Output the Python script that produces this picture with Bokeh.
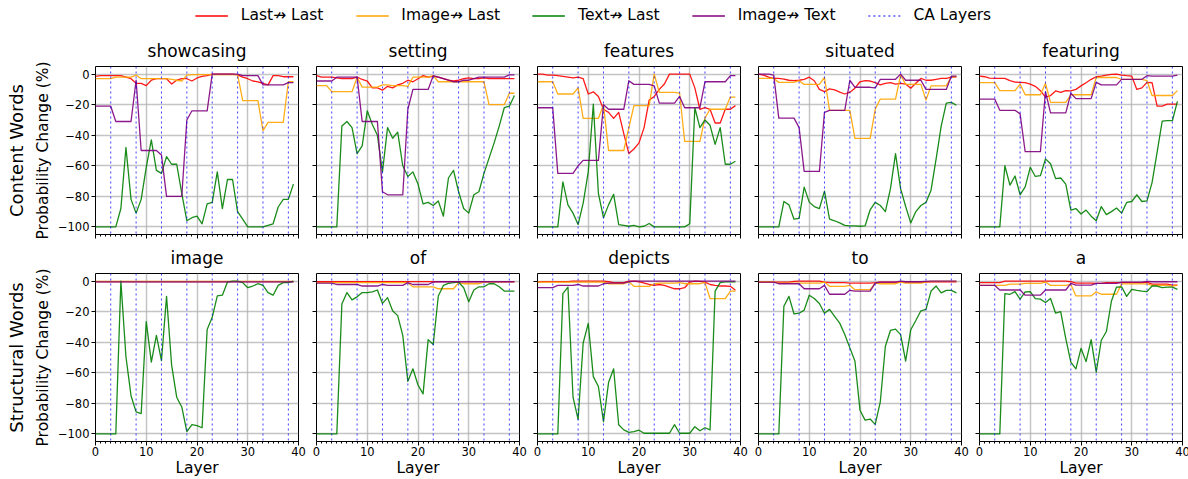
from bokeh.plotting import figure
from bokeh.models import Range1d, FixedTicker, Span, Legend, LegendItem, Title, CustomLabelingPolicy
from bokeh.layouts import column, row
from bokeh.embed import file_html
from bokeh.resources import INLINE

layers = list(range(40))
ca_layers = [3, 8, 13, 18, 23, 28, 33, 38]
x_ticks = [0, 10, 20, 30, 40]
x_minor_ticks = list(range(0, 41))
y_ticks = [-100, -80, -60, -40, -20, 0]
y_tick_labels = ["\u2212100", "\u221280", "\u221260", "\u221240", "\u221220", "0"]
series_names = ["Last\u219b Last", "Image\u219b Last", "Text\u219b Last", "Image\u219b Text"]
series_colors = ["red", "orange", "green", "purple"]
content_words = ["showcasing", "setting", "features", "situated", "featuring"]
structural_words = ["image", "of", "depicts", "to", "a"]
row_labels = ["Content Words", "Structural Words"]

# ---------------- Content words ----------------
showcasing_last = [-1.5, -1, -1, -1, -1, -1, -2, -3, -6, -6, -7.5, -4, -3, -3, -3, -6.5, -4, -3, -3, -4.5,
                   -2.5, -1.5, -1, 0, 0, 0, 0, 0, -0.5, -2, -3, -4.5, -5, -6, -7, -1, -1, -1.7, -1.7, -1.7]
showcasing_image = [-3, -3, -3, -3, -2, -2, -2, -2, -0.6, -3, -3, -3, -3, -3, -3, -3.5, -4, -4.5, -0.6, -0.3,
                    -0.3, -0.3, -0.3, -0.3, -0.3, -0.3, -0.3, -0.3, -0.3, -17.4, -17.4, -17.4, -17.4, -37, -31.6, -31.6, -31.6, -31.6, -5, -5]
showcasing_text = [-100, -100, -100, -100, -100, -88, -48, -82, -91, -82, -61, -43, -63, -65, -54, -59, -59, -78, -96, -94,
                   -93, -98, -85, -84, -64, -88, -69, -69, -90, -95, -100, -100, -100, -100, -99, -98, -87, -82, -82, -72]
showcasing_img_text = [-21, -21, -21, -21, -31, -31, -31, -31, -4, -50, -50, -50, -50, -53, -80, -80, -80, -80, -30, -24,
                       -24, -24, -24, 0, 0, 0, 0, 0, 0, -1, -1, -1, -1, -7, -7, -7, -7, -7, -5.5, -5.5]

setting_last = [-1, -2, -2, -2, -2.5, -3, -3, -3, -2, -3.5, -4.5, -9, -9, -10.5, -8, -9, -7, -6, -4, -5,
                -3, -1, -2, -1.5, -2, -3, -4, -4.5, -4, -3, -2.5, -3, -3, -2.5, -3, -3, -3, -3, -3, -3]
setting_image = [-7.5, -7.5, -7.5, -11.5, -11.5, -11.5, -11.5, -11.5, -2, -8.5, -8.5, -8.5, -8.5, -7, -7, -7.5, -7.5, -7.5, -8, -2,
                 -2, -2, -2, -1, -5, -5, -5, -5, -5, -5, -5, -5, -5, -5, -20, -20, -20, -20, -12.5, -12.5]
setting_text = [-100, -100, -100, -100, -100, -34, -31, -35, -52, -47, -24, -33, -40, -64, -35, -42, -38, -60, -67, -64,
                -72, -85, -84, -86, -83, -93, -68, -63, -77, -88, -91, -79, -77, -65, -55, -45, -34, -22, -21, -14]
setting_img_text = [-4.5, -4.5, -4.5, -4.5, -2, -2, -2, -2, -2, -31, -31, -31, -31, -77, -79, -79, -79, -79, -23, -10,
                    -10, -10, -10, -1, -2, -3, -4, -5, -5, -4, -4, -3, -2, -2, -2, -2, -2, -2, -0.5, -0.5]

features_last = [0, 0, -0.6, -0.6, -1, -1.5, -2, -2.5, -2, -3, -13, -11.6, -14.6, -23, -25, -29, -25, -39, -52, -49,
                 -45, -35, -17, -14.6, -10, -6.5, 0, 0, 0, 0, 0, -9, -23, -22, -23, -32, -32, -23, -23, -20.6]
features_image = [-5, -5, -5, -5, -13, -13, -13, -13, -9, -29, -29, -29, -29, -20, -50, -50, -50, -50, -35, -20.6,
                  -20.6, -20.6, -20.6, 0, -12, -12, -12, -12, -12.5, -44, -44, -44, -44, -28.6, -23, -23, -23, -23, -15, -15]
features_text = [-100, -100, -100, -100, -100, -70.5, -85.6, -91, -98.5, -84.5, -64, -19.6, -78, -94, -85.6, -78.7, -98.5, -99, -99.6, -99,
                 -100, -99.6, -97.8, -100, -100, -100, -100, -100, -100, -100, -98, -22, -35, -30, -33.5, -46, -35, -59, -59, -57]
features_img_text = [-22, -22, -22, -22, -65, -65, -65, -65, -60, -56.5, -56.5, -56.5, -56.5, -20, -23, -23, -23, -23, -4.3, -6.7,
                     -6.7, -6.7, -6.7, -7.7, -19, -19, -19, -19, -14.6, -22, -22, -22, -22, -5, -5, -5, -5, -5, -1, -1]

situated_last = [0, -0.6, -2, -2.8, -2.8, -3.2, -4, -4.3, -4, -3.4, -2, -4.3, -10, -11.4, -9.7, -10.3, -11.8, -13, -11.8, -9.2,
                 -5, -4.3, -4.5, -5.6, -7, -6, -5.6, -6.5, -6, -6.5, -9.2, -6, -2.8, -4, -4, -3.4, -2.8, -2.8, -2, -1.7]
situated_image = [-2.8, -2.8, -2.8, -2.8, -5.4, -5.4, -5.4, -5.4, -4.3, -6.7, -6.7, -6.7, -6.7, -2.2, -23.7, -23.7, -23.7, -23.7, -23.7, -42,
                  -42, -42, -42, -23, -16.3, -16.3, -16.3, -16.3, -0.6, -6.7, -6.7, -6.7, -6.7, -17, -7.7, -7.7, -7.7, -7.7, -1.7, -1.7]
situated_text = [-100, -100, -100, -100, -100, -83.4, -85.6, -95, -94.4, -74, -83.8, -86.7, -88, -76.6, -95, -96, -97.4, -99, -99.4, -99.4,
                 -99.6, -99.4, -88.8, -84, -86, -90, -75, -52, -75, -86.7, -97.4, -90, -86, -84, -76, -55.5, -34, -19, -18.5, -20.4]
situated_img_text = [0, 0, 0, -0.6, -28.8, -28.8, -28.8, -28.8, -35, -63.7, -63.7, -63.7, -63.7, -25, -23.7, -23.7, -23.7, -23.7, -4, -8.6,
                     -8.6, -8.6, -8.6, -9, -3.4, -3.4, -3.4, -3.4, 0, -4, -4, -4, -4, -10, -10, -10, -10, -10, -1.3, -1.3]

featuring_last = [-1.3, -1.7, -2.6, -2.8, -2.8, -2.8, -4.3, -5.2, -5.4, -5.6, -6.5, -8, -10.8, -15, -14, -11, -12, -10.8, -11, -10,
                  -7.7, -5.6, -3.4, -1.7, -1.3, -0.6, -0.2, 0, -0.6, -1, -1.3, -10, -9, -5.4, -5.6, -21, -21, -19.6, -19.6, -19.6]
featuring_image = [-5.6, -5.6, -5.6, -5.6, -10.8, -10.8, -10.8, -10.8, -6.5, -13.5, -13.5, -13.5, -13.5, -6, -18.5, -18.5, -18.5, -18.5, -13.5, -13.5,
                   -13.5, -13.5, -13.5, -2.2, -2.2, -2.2, -2.2, -2.2, -3.4, -3.4, -3.4, -3.4, -3.4, -4.3, -14, -14, -14, -14, -14, -10.8]
featuring_text = [-100, -100, -100, -100, -100, -60, -72.7, -66.7, -79, -73.8, -61, -67, -66.5, -55.5, -58.7, -68.4, -68, -72, -89, -88,
                  -91.6, -89, -93, -96, -86.7, -92, -90, -87.7, -91, -84, -83.4, -79, -83.4, -83, -71, -51, -30.8, -30.5, -30.5, -17.8]
featuring_img_text = [-16.3, -16.3, -16.3, -16.3, -23.7, -23.7, -23.7, -23.7, -26, -50.8, -50.8, -50.8, -50.8, -11.4, -25.4, -25.4, -25.4, -25.4, -12.5, -16,
                      -16, -16, -16, -5.4, -7, -7, -7, -7, -3.4, -3.4, -3.4, -3.4, -3.4, -1, -1.3, -1.3, -1.3, -1.3, -1.3, -0.6]

# ---------------- Structural words ----------------
image_last = [-0.3, -0.3, -0.3, -0.3, -0.3, -0.3, -0.3, -0.3, -0.3, -0.3, -0.3, -0.3, -0.3, -0.3, -0.3, -0.3, -0.3, -0.3, -0.3, -0.3,
              -0.3, -0.3, -0.3, -0.3, -0.3, -0.3, -0.3, -0.3, -0.3, -0.3, -0.3, -0.3, -0.3, -0.3, -0.3, -0.3, -0.3, -0.3, -0.3, -0.3]
image_image = [-0.2, -0.2, -0.2, -0.2, -0.2, -0.2, -0.2, -0.2, -0.2, -0.2, -0.2, -0.2, -0.2, -0.2, -0.2, -0.2, -0.2, -0.2, -0.2, -0.2,
               -0.2, -0.2, -0.2, -0.2, -0.2, -0.2, -0.2, -0.2, -0.2, -0.2, -0.2, -0.2, -0.2, -0.2, -0.2, -0.2, -0.2, -0.2, -0.2, -0.2]
image_text = [-100, -100, -100, -100, -100, 0, -49.5, -75, -85.6, -86.7, -26.5, -53, -35.5, -52, -10, -55, -76, -82.4, -98.5, -94,
              -94.6, -96, -31.6, -23.7, -9.7, -9.2, -0.6, 0, 0, -1, -4.3, -3.2, -1.7, -2.8, -7.5, -9.2, -2.8, -1, -1, 0]
image_img_text = [-0.5, -0.5, -0.5, -0.5, -0.5, -0.5, -0.5, -0.5, -0.5, -0.5, -0.5, -0.5, -0.5, -0.5, -0.5, -0.5, -0.5, -0.5, -0.5, -0.5,
                  -0.5, -0.5, -0.5, -0.5, -0.5, -0.5, -0.5, -0.5, -0.5, -0.5, -0.5, -0.5, -0.5, -0.5, -0.5, -0.5, -0.5, -0.5, -0.5, -0.5]

of_last = [-0.3, -0.3, -0.3, -0.3, -0.3, -0.3, -0.3, -0.3, -0.3, -0.3, -0.3, -0.3, -0.3, -0.3, -0.3, -0.3, -0.3, -0.3, -0.3, -0.3,
           -0.3, -0.3, -0.3, -0.3, -0.3, -0.3, -0.3, -0.3, -0.3, -0.3, -0.3, -0.3, -0.3, -0.3, -0.3, -0.3, -0.3, -0.3, -0.3, -0.3]
of_image = [-1, -1, -1, -1, -1, -1, -1, -1, -1, -1, -1, -1, -1, -1, -1, -1, -1, -1, -1, -3.7,
            -3.7, -3.7, -3.7, -3.7, -5, -5, -5, -5, -1, -1.7, -1.7, -1.7, -1.7, -0.6, -0.4, -0.4, -0.4, -0.4, -0.4, -0.4]
of_text = [-100, -100, -100, -100, -100, -15, -7.5, -12.3, -10.3, -7.5, -7.5, -7, -5.8, -14.6, -10.8, -19.4, -22.6, -35.5, -65.6, -57.4,
           -68, -73.8, -38.3, -41.5, -9.7, -2.8, -1.5, -1, -0.6, -4.3, -13.5, -5.8, -3.7, -3.7, -1.7, -1.7, -3.7, -6.5, -6.5, -6.5]
of_img_text = [-1.3, -1.3, -1.3, -1.3, -2.2, -2.2, -2.2, -2.2, -2.2, -3.2, -3.2, -3.2, -3.2, -2.2, -2.8, -2.8, -2.8, -2.8, -1, -2.2,
               -2.2, -2.2, -2.2, -0.6, -0.4, -0.4, -0.4, -0.4, -0.4, -0.4, -0.4, -0.4, -0.4, -0.4, -0.4, -0.4, -0.4, -0.4, -0.4, -0.4]

depicts_last = [-0.6, -0.3, -0.3, -0.3, -0.3, -0.3, -0.3, 0, 0, 0, 0, 0, 0, 0, -0.4, -1, -1, -1, 0, 0,
                -0.4, -1.3, -2.2, -2.8, -2.2, -2.8, -3.9, -5, -5, -4.3, -0.6, 0, -0.2, -0.6, -2.2, -2.8, -3.2, -3.2, -3.4, -6]
depicts_image = [-0.6, -0.6, -0.6, -0.6, -0.6, -0.6, -0.6, -0.6, -0.6, -0.6, -0.6, -0.6, -0.6, -0.6, -1.7, -1.7, -1.7, -1.7, -0.6, -3.4,
                 -3.4, -3.4, -3.4, -1.7, -1.3, -1.3, -1.3, -1.3, -1, -1.7, -1.7, -1.7, -1.7, -1, -11.4, -11.4, -11.4, -11.4, -6.5, -6.5]
depicts_text = [-100, -100, -100, -100, -100, -8.2, -3.9, -76, -90.5, -40.5, -27.6, -62.5, -69, -92, -66.4, -57.4, -94, -97.4, -99, -98.5,
                -97.6, -99.6, -99.6, -99.6, -99.6, -99.6, -99.6, -94, -99.6, -99.6, -99.6, -95.3, -98, -96, -97.4, -6.5, -1, -0.5, -0.5, -0.5]
depicts_img_text = [-4.3, -4.3, -4.3, -4.3, -2.8, -2.8, -2.8, -2.8, -2.2, -3.2, -3.2, -3.2, -3.2, -1.7, -1.3, -1.3, -1.3, -1.3, -0.4, 0,
                    0, 0, 0, 0, 0, 0, 0, 0, 0, 0, 0, 0, 0, 0, 0, 0, 0, 0, 0, 0]

to_last = [-0.6, -0.6, -0.6, -0.6, -0.6, -0.6, -0.6, -0.2, 0, 0, 0, 0, 0, -0.6, -1, -1, -1, -1, -1.3, -1.3,
           -1.3, -1.3, -1.3, -1, -0.6, -0.6, -0.6, -0.6, -0.6, -0.6, -0.6, -0.6, -0.6, -0.6, -0.4, -0.4, -0.4, -0.4, -0.4, -0.4]
to_image = [-0.4, -0.4, -0.4, -0.4, -1.3, -1.3, -1.3, -1.3, -1.3, -1.3, -1.3, -1.3, -1.3, -0.6, -3.4, -3.4, -3.4, -3.4, -2.8, -5.6,
            -5.6, -5.6, -5.6, -1.3, -1.7, -1.7, -1.7, -1.7, -0.6, -1.3, -1.3, -1.3, -1.3, -0.6, -0.2, -0.2, -0.2, -0.2, -0.2, -0.2]
to_text = [-100, -100, -100, -100, -100, -16.4, -10, -21.5, -21, -19, -9.2, -11.4, -14.6, -21, -18.5, -23, -27.5, -35, -43.7, -52.3,
           -84.5, -91, -90.3, -93.8, -79, -42.6, -32.3, -31.4, -35, -52.3, -31.8, -25.8, -19.4, -18.5, -6.5, -3.2, -7.7, -6, -6, -7.7]
to_img_text = [-0.6, -0.6, -0.6, -0.6, -1.7, -1.7, -1.7, -1.7, -1.7, -5, -5, -5, -5, -2.8, -8.6, -8.6, -8.6, -8.6, -6, -6.5,
               -6.5, -6.5, -6.5, -1.3, -0.6, -0.6, -0.6, -0.6, 0, -0.4, -0.4, -0.4, -0.4, -0.2, 0, 0, 0, 0, 0, 0]

a_last = [-1, -1, -1, -1, -1, 0, 0, 0, 0, 0, 0, 0, 0, 0, 0, 0, 0, 0, -0.4, -1.3,
          -1.3, -1.3, -1.3, -1.5, -1.5, -1, -1, -1, -1, -1, -1, -1, -1, -0.6, -2, -2, -2, -2, -2.6, -2.6]
a_image = [-2.8, -2.8, -2.8, -2.8, -2.8, -2.8, -2, -2, -2, -1.5, -1.5, -1.5, -1.5, -0.6, -2.8, -2.8, -2.8, -2.8, -2.2, -9.7,
           -9.7, -9.7, -9.7, -7, -8.6, -8.6, -8.6, -8.6, -1.8, -1.8, -1.8, -1.8, -1.8, -1.8, -2.8, -2.8, -2.8, -2.8, -3.2, -2.8]
a_text = [-100, -100, -100, -100, -100, -8.2, -8.6, -6.9, -11.8, -7.1, -6.9, -11.4, -11.8, -14, -11.4, -21, -20, -37.6, -53, -57.4,
          -44, -52.7, -38.3, -59.6, -38.7, -33, -13, -3.9, -3.7, -10, -5.4, -6, -6.5, -6.9, -3.2, -3.2, -4.3, -3.9, -3.9, -5.4]
a_img_text = [-2.8, -2.8, -2.8, -2.8, -5.8, -5.8, -5.8, -5.8, -5.8, -9.2, -9.2, -9.2, -9.2, -5.8, -5.8, -5.8, -5.8, -5.8, -1.5, -2.6,
              -2.6, -2.6, -2.6, -1.5, -1.5, -1.5, -1.5, -1.5, -0.6, -0.6, -0.6, -0.6, -0.6, -0.2, -0.4, -0.4, -0.4, -0.4, -0.4, -0.4]

panel_data = {
    "showcasing": [showcasing_last, showcasing_image, showcasing_text, showcasing_img_text],
    "setting": [setting_last, setting_image, setting_text, setting_img_text],
    "features": [features_last, features_image, features_text, features_img_text],
    "situated": [situated_last, situated_image, situated_text, situated_img_text],
    "featuring": [featuring_last, featuring_image, featuring_text, featuring_img_text],
    "image": [image_last, image_image, image_text, image_img_text],
    "of": [of_last, of_image, of_text, of_img_text],
    "depicts": [depicts_last, depicts_image, depicts_text, depicts_img_text],
    "to": [to_last, to_image, to_text, to_img_text],
    "a": [a_last, a_image, a_text, a_img_text],
}

FONT = "DejaVu Sans"
FRAME_W = 203
FRAME_H = 168
CA_DASH = "2 3"

HIDE_CODE = "for (const i of indices) { indices.unset(i) }\nreturn indices"


def make_panel(word, row_idx, col_idx):
    first = col_idx == 0
    last = col_idx == 4
    bottom = row_idx == 1
    p = figure(frame_width=FRAME_W, frame_height=FRAME_H,
               x_range=Range1d(0, 40), y_range=Range1d(-105, 5),
               output_backend="svg", toolbar_location=None,
               min_border_left=91 if first else 9,
               min_border_right=8 if last else 9,
               min_border_top=33 if bottom else 36,
               min_border_bottom=36 if bottom else 6)
    p.title.text = word
    p.title.align = "center"
    p.title.text_font = FONT
    p.title.text_font_size = "17px"
    p.title.text_font_style = "normal"
    p.title.text_color = "black"
    p.title.standoff = 11

    p.outline_line_color = "black"
    p.outline_line_width = 1
    p.outline_line_alpha = 1

    p.xaxis.ticker = FixedTicker(ticks=x_ticks, minor_ticks=x_minor_ticks)
    p.yaxis.ticker = FixedTicker(ticks=y_ticks, minor_ticks=[])
    p.yaxis.major_label_overrides = dict(zip(y_ticks, y_tick_labels))
    for ax in (p.xaxis[0], p.yaxis[0]):
        ax.axis_line_color = None
        ax.major_tick_line_color = "black"
        ax.minor_tick_line_color = "black"
        ax.major_tick_out = 4
        ax.major_tick_in = 0
        ax.minor_tick_out = 2
        ax.minor_tick_in = 0
        ax.major_label_text_font = FONT
        ax.major_label_text_font_size = "11.5px"
        ax.major_label_text_color = "black"
        ax.major_label_standoff = 2
        ax.axis_label_text_font = FONT
        ax.axis_label_text_font_style = "normal"
        ax.axis_label_text_color = "black"
        ax.axis_label_text_font_size = "15.5px"
    if not bottom:
        p.xaxis.major_label_text_font_size = "0px"
        p.xaxis.major_label_standoff = 0
        p.xaxis.major_label_policy = CustomLabelingPolicy(code=HIDE_CODE)
    else:
        p.xaxis.axis_label = "Layer"
        p.xaxis.major_label_standoff = 1
        p.xaxis.axis_label_standoff = 0
    if not first:
        p.yaxis.major_label_text_font_size = "0px"
        p.yaxis.major_label_standoff = 0
        p.yaxis.major_label_policy = CustomLabelingPolicy(code=HIDE_CODE)
    else:
        p.yaxis.axis_label = "Probability Change (%)"
        p.yaxis.axis_label_standoff = 3
        p.add_layout(Title(text=row_labels[row_idx], align="center", text_font=FONT,
                           text_font_size="18px", text_font_style="normal",
                           text_color="black", standoff=7), "left")

    p.xgrid.grid_line_color = "#b0b0b0"
    p.ygrid.grid_line_color = "#b0b0b0"
    p.grid.grid_line_width = 1.5
    p.grid.grid_line_alpha = 0.75

    for vals, color in zip(panel_data[word], series_colors):
        p.line(layers, vals, line_color=color, line_width=1.3, line_alpha=0.9, line_join="round")

    for c in ca_layers:
        p.add_layout(Span(location=c, dimension="height", line_color="blue",
                          line_dash=CA_DASH, line_width=1, line_alpha=0.75))
    return p


top_figs = [make_panel(w, 0, i) for i, w in enumerate(content_words)]
bottom_figs = [make_panel(w, 1, i) for i, w in enumerate(structural_words)]

# legend strip (dummy renderers lie outside the visible range)
leg = figure(width=1186, height=30, output_backend="svg", toolbar_location=None,
             x_range=Range1d(0, 1), y_range=Range1d(0, 1),
             x_axis_location=None, y_axis_location=None, min_border=0)
leg.grid.visible = False
leg.outline_line_color = None
items = []
for name, color in zip(series_names, series_colors):
    r = leg.line([5, 6], [5, 5], line_color=color, line_width=1.3)
    items.append(LegendItem(label=name, renderers=[r]))
r_ca = leg.line([5, 6], [5, 5], line_color="blue", line_dash=CA_DASH, line_width=1)
items.append(LegendItem(label="CA Layers", renderers=[r_ca]))
legend = Legend(items=items, orientation="horizontal", location="center",
                glyph_width=33, glyph_height=17, label_height=17, label_standoff=13, spacing=32,
                padding=0, margin=0, border_line_color=None, background_fill_alpha=0,
                label_text_font=FONT, label_text_font_size="15.5px", label_text_color="black")
leg.add_layout(legend, "center")

layout = column(leg, row(*top_figs), row(*bottom_figs))

open("out.html", "w").write(file_html(layout, INLINE))
